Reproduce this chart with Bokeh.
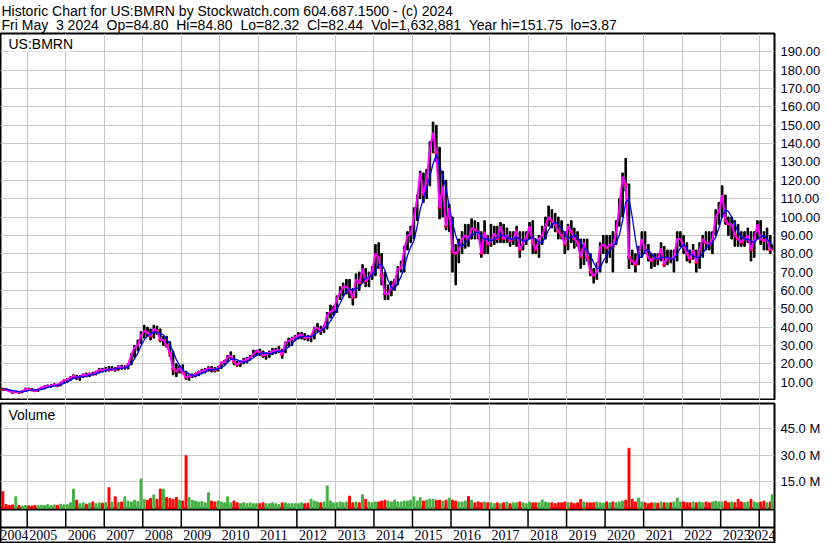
import datetime as dt
from bokeh.plotting import figure
from bokeh.layouts import column
from bokeh.models import (Range1d, FixedTicker, NumeralTickFormatter, PrintfTickFormatter,
                          Label, Title, Span)
from bokeh.embed import file_html
from bokeh.resources import INLINE

FONT = "Liberation Sans"

HEAD1 = "Historic Chart for US:BMRN by Stockwatch.com 604.687.1500 - (c) 2024"
HEAD2 = "Fri May  3 2024  Op=84.80  Hi=84.80  Lo=82.32  Cl=82.44  Vol=1,632,881  Year hi=151.75  lo=3.87"
SYMBOL = "US:BMRN"

# ---- monthly data, May 2004 .. May 2024 ----
hi = [
    6.7, 6.5, 6.0, 5.2, 5.3, 5.0, 5.4, 6.8,                                  # 2004 May-Dec
    6.8, 6.5, 6.0, 6.3, 7.3, 8.0, 8.5, 8.6, 9.2, 9.0, 10.0, 11.3,           # 2005
    12.0, 13.0, 14.0, 13.8, 13.5, 14.5, 15.0, 15.0, 15.5, 16.0, 17.5, 17.5,  # 2006
    18.0, 18.5, 18.5, 18.0, 19.0, 19.2, 19.0, 20.0, 25.5, 30.0, 33.0, 37.5,  # 2007
    41, 40, 39, 41, 40.5, 39, 35, 35, 32, 27, 20, 19,                        # 2008
    19.5, 16.0, 14.0, 14.5, 15.0, 16.0, 17.0, 17.5, 18.5, 18.5, 18.0, 18.5,  # 2009
    21.0, 22.0, 24.5, 26.5, 24.5, 21.5, 21.5, 23.0, 23.5, 24.5, 27.5, 27.5,  # 2010
    28.0, 27.0, 26.0, 27.0, 28.5, 28.5, 29.5, 28.0, 32.0, 34.0, 34.5, 35.5,  # 2011
    37.0, 37.0, 36.5, 35.5, 35.5, 40.0, 42.0, 40.5, 41.0, 48.0, 52.0, 51.5,  # 2012
    57, 62, 64, 66, 66, 61, 69, 70, 74, 72, 70, 73,                          # 2013
    85, 86, 80, 70, 63, 65, 66, 73, 76, 84, 92, 95,                          # 2014
    105, 112, 125, 124, 126, 141, 151.75, 150, 138, 125, 120, 107,           # 2015
    100, 85, 88, 92, 96, 96, 99, 98, 97, 92, 98, 90,                         # 2016
    96, 95, 95, 97, 96, 94, 92, 92, 95, 92, 92, 92,                          # 2017
    97, 98, 88, 90, 95, 100, 106, 104, 102, 100, 98, 92,                     # 2018
    96, 98, 94, 92, 88, 88, 88, 80, 72, 75, 86, 90,                          # 2019
    90, 90, 92, 98, 110, 124, 132, 118, 82, 80, 84, 92,                      # 2020
    92, 85, 80, 80, 80, 86, 84, 82, 82, 82, 92, 92,                          # 2021
    90, 86, 82, 85, 82, 86, 90, 92, 92, 92, 104, 108,                        # 2022
    117, 112, 100, 100, 98, 96, 92, 92, 94, 92, 92, 98,                      # 2023
    98, 92, 94, 90, 84.8,                                                    # 2024 Jan-May
]
lo = [
    5.5, 5.4, 4.8, 3.87, 4.2, 3.9, 4.2, 5.0,
    5.5, 5.2, 4.8, 4.9, 6.0, 6.5, 7.0, 7.2, 8.0, 7.5, 8.0, 9.5,
    10.0, 11.0, 12.0, 11.5, 11.0, 12.5, 12.8, 13.0, 13.8, 14.0, 15.0, 15.5,
    15.8, 16.0, 16.5, 16.0, 16.5, 17.0, 17.0, 17.2, 19.5, 23.5, 27.0, 31.0,
    34, 35, 33, 34, 36, 32, 30, 29, 24, 14, 13, 15,
    14.5, 11.5, 11.0, 12.5, 12.8, 13.5, 14.5, 15.0, 16.0, 15.5, 15.5, 16.0,
    17.5, 19.5, 21.0, 22.5, 19.5, 18.5, 18.5, 20.0, 20.5, 22.0, 24.0, 24.5,
    24.5, 23.5, 22.5, 23.5, 25.0, 25.5, 26.0, 23.0, 26.0, 29.5, 30.0, 32.5,
    33.5, 33.5, 33.0, 32.5, 32.0, 33.5, 37.5, 36.0, 37.0, 39.0, 45.0, 46.5,
    48, 55, 57, 58, 56, 52, 56, 60, 64, 62, 62, 66,
    68, 72, 63, 55, 55, 57, 60, 63, 70, 70, 82, 86,
    88, 98, 110, 108, 110, 117, 135, 130, 99, 100, 93, 92,
    70, 63, 75, 80, 83, 84, 88, 88, 88, 78, 80, 80,
    84, 85, 86, 86, 86, 86, 84, 85, 84, 78, 82, 85,
    88, 80, 80, 78, 85, 88, 95, 94, 92, 88, 88, 80,
    82, 86, 83, 84, 72, 74, 76, 68, 64, 66, 70, 80,
    75, 78, 70, 85, 95, 100, 114, 72, 74, 70, 74, 78,
    80, 76, 72, 73, 74, 76, 73, 74, 75, 70, 76, 84,
    80, 76, 75, 77, 70, 72, 78, 82, 82, 80, 90, 96,
    100, 96, 90, 88, 84, 84, 84, 84, 86, 76, 78, 88,
    85, 82, 82, 80, 82.32,
]
cl = [
    6.0, 5.9, 5.2, 4.5, 4.9, 4.4, 5.0, 6.3,
    6.0, 5.8, 5.2, 6.0, 7.0, 7.5, 7.8, 8.0, 8.7, 8.0, 9.8, 10.8,
    11.5, 12.5, 13.4, 12.5, 12.8, 14.2, 13.5, 14.8, 14.3, 15.5, 16.8, 16.4,
    17.0, 16.8, 17.2, 16.8, 18.5, 17.9, 18.0, 19.6, 24.8, 29.0, 30.0, 35.4,
    38, 37, 35, 39, 38, 33, 33, 30, 26, 17, 16, 17.8,
    15.0, 12.5, 13.2, 13.5, 14.2, 15.6, 16.0, 16.5, 17.8, 17.0, 16.5, 17.6,
    20.8, 21.0, 23.5, 24.5, 21.0, 19.5, 21.0, 21.8, 22.5, 23.5, 25.5, 27.0,
    26.5, 24.5, 25.2, 26.0, 27.0, 27.2, 27.5, 25.0, 31.8, 32.5, 33.5, 34.4,
    35.5, 35.8, 34.3, 34.2, 35.0, 39.5, 39.5, 38.0, 40.2, 46.5, 48.5, 49.2,
    55.5, 59, 62, 62, 60, 56, 66, 64, 72, 65, 67, 70.7,
    80, 78, 68, 58, 58, 62, 64, 72, 72, 82, 90, 90.4,
    100, 110, 124, 112, 120, 137, 146, 135, 105, 117, 95, 104.8,
    81, 80, 82, 88, 90, 88, 94, 93, 92, 80, 92, 85,
    87, 91, 88, 95, 88, 90, 87, 88, 93, 82, 86, 89,
    95, 86, 82, 88, 90, 95, 100, 98, 96, 92, 90, 85,
    95, 92, 88, 86, 78, 86, 78, 70, 68, 70, 84, 85,
    83, 85, 84, 92, 105, 122, 118, 78, 76, 74, 80, 88,
    82, 78, 76, 78, 77, 83, 74, 78, 77, 78, 88, 88,
    84, 80, 77, 82, 75, 82, 88, 86, 85, 88, 100, 103,
    112, 98, 96, 96, 90, 88, 86, 88, 90, 82, 88, 96,
    88, 87, 88, 82, 82.44,
]
ma_long = [
    6.3, 6.1, 5.8, 5.4, 5.1, 4.8, 4.7, 5.0,
    5.4, 5.8, 5.8, 5.8, 6.0, 6.4, 7.1, 7.6, 8.0, 8.1, 8.6, 9.3,
    10.0, 11.1, 12.0, 12.5, 12.8, 13.2, 13.3, 13.8, 14.2, 14.5, 15.3, 15.8,
    16.4, 17.0, 17.1, 17.2, 17.6, 17.6, 17.8, 18.5, 20.1, 22.8, 25.8, 29.8,
    33.0, 35.1, 36.3, 37.2, 37.3, 36.3, 35.8, 33.5, 30.5, 26.5, 22.3, 19.2,
    16.5, 15.3, 14.6, 13.6, 13.4, 14.1, 14.8, 15.6, 16.5, 16.8, 16.9, 17.2,
    18.0, 19.0, 20.7, 22.5, 22.5, 22.1, 21.5, 20.8, 21.2, 22.2, 23.3, 24.6,
    25.6, 25.9, 25.8, 25.6, 25.7, 26.4, 27.0, 26.7, 27.9, 29.2, 30.7, 33.0,
    34.0, 34.8, 35.0, 35.0, 34.8, 35.8, 37.1, 38.0, 39.3, 41.0, 43.3, 46.1,
    49.9, 53.0, 56.4, 59.6, 60.8, 60.0, 61.0, 61.5, 64.5, 66.8, 67.0, 68.7,
    70.7, 74.0, 74.2, 71.0, 65.5, 61.5, 60.5, 64.0, 67.5, 72.5, 79.0, 83.6,
    87, 95, 104, 110, 116, 122, 129, 134, 128, 122, 116, 106,
    97, 90, 85, 84, 86, 88, 90, 91, 92, 89, 88, 88,
    87, 88, 89, 90, 90, 89, 88, 88, 89, 88, 87, 87,
    88, 89, 88, 86, 86, 89, 93, 96, 97, 96, 94, 91,
    88, 89, 90, 89, 86, 83, 82, 79, 75, 72, 72, 76,
    79, 82, 84, 86, 90, 98, 108, 110, 100, 88, 78, 78,
    82, 82, 80, 78, 77, 78, 78, 78, 77, 77, 80, 83,
    85, 83, 80, 79, 78, 78, 80, 83, 85, 86, 89, 94,
    100, 104, 103, 100, 96, 92, 89, 88, 88, 87, 86, 88,
    89, 90, 88, 86, 85,
]
vol_m = [  # millions of shares
    9.3, 2.0, 1.5, 1.8, 6.4, 1.5, 1.2, 1.5,
    1.3, 1.2, 1.5, 1.4, 1.6, 1.5, 2.0, 1.5, 1.8, 1.6, 2.2, 1.8,
    2.0, 3.0, 10.8, 4.5, 2.5, 3.0, 2.2, 2.8, 3.5, 2.5, 3.0, 2.8,
    3.0, 11.6, 3.5, 6.4, 3.2, 3.5, 6.4, 4.0, 3.5, 4.5, 3.8, 16.5,
    5.0, 4.5, 5.5, 7.5, 5.0, 10.8, 10.8, 6.0, 5.5, 5.0, 6.0, 4.5,
    4.0, 29.8, 6.0, 4.5, 4.0, 3.5, 3.8, 3.0, 8.7, 4.0, 3.5, 4.0,
    3.5, 3.0, 6.4, 3.0, 4.0, 3.0, 2.5, 3.0, 2.5, 3.0, 2.5, 2.5,
    2.5, 3.0, 2.5, 2.5, 3.0, 2.5, 2.0, 3.0, 3.0, 2.5, 2.5, 2.5,
    2.5, 3.0, 2.5, 2.8, 5.0, 4.0, 3.5, 3.0, 3.5, 12.6, 4.0, 3.0,
    3.0, 3.5, 3.0, 3.5, 6.8, 3.0, 3.5, 3.0, 7.6, 5.0, 3.5, 3.0,
    3.5, 3.5, 4.0, 4.5, 4.0, 3.5, 4.5, 3.5, 3.5, 4.0, 4.0, 4.5,
    6.4, 4.0, 5.9, 4.0, 4.5, 5.1, 5.0, 4.5, 4.5, 4.0, 4.5, 5.7,
    4.5, 4.0, 3.5, 3.5, 4.0, 6.6, 4.5, 3.0, 3.5, 3.0, 3.5, 3.0,
    3.0, 2.5, 3.0, 2.5, 3.0, 3.5, 2.5, 3.0, 3.0, 3.5, 3.0, 2.5,
    3.5, 3.0, 3.0, 3.0, 4.6, 3.5, 3.0, 3.0, 2.5, 3.0, 3.0, 3.5,
    3.0, 3.0, 2.5, 3.0, 4.9, 3.5, 3.0, 3.0, 3.0, 3.5, 3.0, 2.8,
    3.5, 3.0, 3.5, 3.0, 3.5, 4.0, 4.5, 34.0, 5.0, 3.5, 5.7, 3.5,
    3.0, 2.5, 3.0, 3.0, 2.8, 3.5, 3.0, 3.0, 3.0, 3.5, 5.7, 3.5,
    3.5, 3.0, 3.0, 3.5, 3.0, 3.5, 3.0, 3.5, 3.0, 3.5, 4.0, 3.5,
    3.5, 4.0, 3.0, 3.5, 3.0, 5.0, 3.5, 3.0, 3.5, 5.0, 3.5, 3.0,
    3.5, 4.0, 3.0, 3.5, 7.6,
]
year_ticks = list(range(2005, 2025))
year_labels = [str(y) for y in range(2004, 2025)]
price_ticks = list(range(10, 200, 10))
vol_ticks = [15, 30, 45]

# ---- x positions (decimal years) ----
def dec(y, m, d=15):
    a = dt.date(y, 1, 1)
    b = dt.date(y + 1, 1, 1)
    return y + (dt.date(y, m, d) - a).days / (b - a).days

months = [(2004, m) for m in range(5, 13)] + \
         [(y, m) for y in range(2005, 2024) for m in range(1, 13)] + \
         [(2024, m) for m in range(1, 6)]
xm = [dec(y, m) for y, m in months]
xm[-1] = dec(2024, 5, 2)
X0, X1 = 2004.307, 2024.397
BW = 0.5 / 12

up = [False] + [cl[i] >= cl[i - 1] for i in range(1, len(cl))]
vcol = ["#44b044" if u else "#ff0000" for u in up]
down_x = [x for x, u in zip(xm, up) if not u]
down_c = [c for c, u in zip(cl, up) if not u]

W, RB = 830, 56
GRID = "#c8c8c8"
NB = "\u00a0"

def style_common(p):
    p.outline_line_color = "black"
    p.outline_line_width = 2
    p.outline_line_alpha = 1
    p.background_fill_color = "white"
    p.border_fill_color = "white"

def style_yaxis(ax):
    ax.major_tick_line_color = None
    ax.minor_tick_line_color = None
    ax.major_tick_out = 0
    ax.major_tick_in = 0
    ax.minor_tick_out = 0
    ax.axis_line_color = None
    ax.major_label_text_font = FONT
    ax.major_label_text_font_size = "13px"
    ax.major_label_text_color = "#000020"
    ax.major_label_standoff = 6

# ---- price panel ----
xr = Range1d(X0, X1)
p1 = figure(width=W, height=400, x_range=xr, y_range=Range1d(0, 200),
            x_axis_location=None, y_axis_location="right", title=None,
            output_backend="svg", toolbar_location=None,
            min_border_left=0, min_border_right=RB, min_border_top=32, min_border_bottom=0)
style_common(p1)
p1.xgrid.ticker = FixedTicker(ticks=year_ticks)
p1.ygrid.ticker = FixedTicker(ticks=price_ticks)
p1.grid.grid_line_color = GRID
p1.yaxis.ticker = FixedTicker(ticks=price_ticks)
p1.yaxis.formatter = NumeralTickFormatter(format="0.00")
style_yaxis(p1.yaxis[0])

header = Title(text=HEAD1 + "\n" + HEAD2.replace("  ", NB + " "), align="left",
               text_font=FONT, text_font_size="14px", text_font_style="normal",
               text_color="black", text_line_height=0.92, standoff=0, offset=1)
p1.add_layout(header, "above")

p1.vbar(x=xm, bottom=lo, top=hi, width=BW, color="black")
p1.scatter(x=down_x, y=down_c, marker="dash", size=4, line_width=2, color="#ff0000")
p1.line(x=xm, y=cl, line_color="#ff00ff", line_width=2)
p1.line(x=xm, y=ma_long, line_color="#0000ff", line_width=1.3)
p1.add_layout(Label(x=X0, y=200, x_offset=8, y_offset=-2, text=SYMBOL, text_baseline="top",
                    text_font=FONT, text_font_size="14px", text_color="black",
                    background_fill_color="white"))

# ---- volume panel ----
p2 = figure(width=W, height=109, x_range=xr, y_range=Range1d(-0.8, 59.5),
            x_axis_location=None, y_axis_location="right", title=None,
            output_backend="svg", toolbar_location=None,
            min_border_left=0, min_border_right=RB, min_border_top=3, min_border_bottom=0)
style_common(p2)
p2.xgrid.ticker = FixedTicker(ticks=year_ticks)
p2.ygrid.ticker = FixedTicker(ticks=vol_ticks)
p2.grid.grid_line_color = GRID
p2.yaxis.ticker = FixedTicker(ticks=vol_ticks)
p2.yaxis.formatter = PrintfTickFormatter(format="%.1f M")
style_yaxis(p2.yaxis[0])
p2.vbar(x=xm, bottom=-0.8, top=vol_m, width=0.6 / 12, color=vcol)
p2.add_layout(Label(x=X0, y=59.5, x_offset=8, y_offset=-3, text="Volume", text_baseline="top",
                    text_font=FONT, text_font_size="14px", text_color="black",
                    background_fill_color="white"))

# ---- date axis panel ----
p3 = figure(width=W, height=34, x_range=xr, y_range=Range1d(0, 33),
            x_axis_location=None, y_axis_location=None, title=None,
            output_backend="svg", toolbar_location=None,
            min_border_left=0, min_border_right=RB, min_border_top=0, min_border_bottom=1)
style_common(p3)
p3.grid.visible = False
p3.segment(x0=year_ticks, y0=15, x1=year_ticks, y1=33, line_color="black", line_width=1.5)
p3.add_layout(Span(location=15, dimension="width", line_color="black", line_width=2))
lab_kw = dict(text_font=FONT, text_font_size="14px", text_color="#000020", text_baseline="middle")
p3.text(x=year_ticks[:-1], y=[7.5] * (len(year_ticks) - 1), text=year_labels[1:-1],
        x_offset=2, text_align="left", **lab_kw)
p3.text(x=[X0], y=[7.5], text=[year_labels[0]], x_offset=0, text_align="left", **lab_kw)
p3.text(x=[X1], y=[7.5], text=[year_labels[-1]], x_offset=1, text_align="right", **lab_kw)

layout = column(p1, p2, p3, spacing=0)
open("out.html", "w").write(file_html(layout, INLINE))
